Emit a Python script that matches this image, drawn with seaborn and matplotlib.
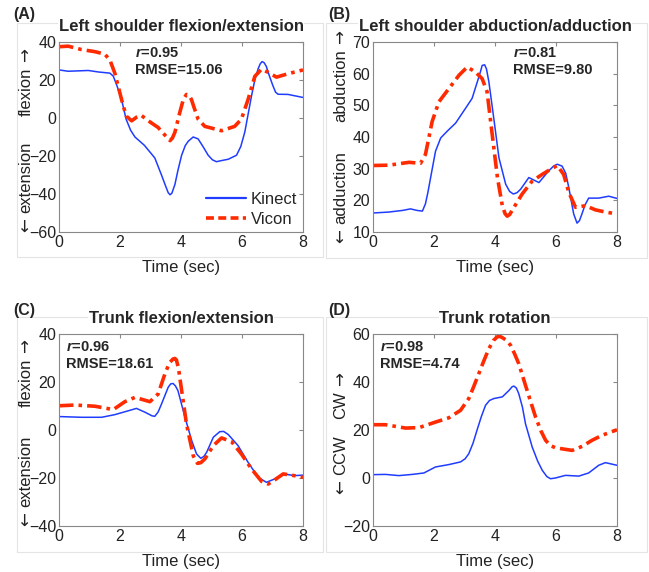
import numpy as np
import pandas as pd
import matplotlib
matplotlib.use("Agg")
import matplotlib.pyplot as plt
from matplotlib.lines import Line2D
import seaborn as sns

# ---- data (time in sec, angle in deg) ----
a_kin_t = [0, 0.3, 0.63, 0.96, 1.3, 1.67, 1.78, 1.9, 2.05, 2.2, 2.35, 2.49, 2.8, 3.14, 3.36, 3.5, 3.58, 3.64,
           3.7, 3.8, 3.9, 4.02, 4.14, 4.24, 4.4, 4.56, 4.72, 4.89, 5.03, 5.16, 5.3, 5.55, 5.82, 5.96, 6.09, 6.2,
           6.31, 6.42, 6.53, 6.6, 6.66, 6.73, 6.8, 6.9, 7.02, 7.1, 7.18, 7.51, 8]
a_kin_y = [25.3, 24.6, 24.8, 25, 24.2, 23.6, 22, 17, 9.8, -0.6, -6.5, -10, -14.4, -21, -30, -36, -39.3, -40.4,
           -39.6, -35, -27.5, -19.6, -14.5, -12.2, -10, -11, -15, -19.6, -22, -23, -22.5, -21.7, -19.6, -15, -7.5, 2,
           11.5, 20, 26, 28.6, 29.7, 29, 27, 22, 16.7, 13.6, 12.5, 12.4, 10.8]
a_vic_t = [0, 0.3, 0.74, 1.18, 1.5, 1.67, 1.83, 2.05, 2.2, 2.38, 2.55, 2.69, 2.93, 3.25, 3.5, 3.64, 3.72, 3.8,
           3.96, 4.08, 4.18, 4.26, 4.34, 4.45, 4.56, 4.78, 5.33, 5.76, 5.98, 6.2, 6.42, 6.64, 6.86, 7.13, 7.51, 8]
a_vic_y = [37.5, 37.8, 36, 34.9, 33.6, 30.5, 23.6, 9.8, 1.1, -1.5, 0.5, 1.5, -1.5, -5, -9.5, -11.9, -10.5, -7.5,
           2.9, 10, 12.4, 12, 9.8, 4.5, -0.6, -4.4, -6.7, -4.4, -0.6, 9.8, 21.9, 25.7, 24, 21.5, 23.3, 25.3]

b_kin_t = [0, 0.52, 0.96, 1.23, 1.45, 1.62, 1.72, 1.8, 1.89, 2.05, 2.22, 2.43, 2.71, 3.03, 3.25, 3.42, 3.52,
           3.58, 3.66, 3.72, 3.8, 3.96, 4.13, 4.35, 4.48, 4.6, 4.72, 4.84, 5.11, 5.44, 5.76, 5.92, 6.04, 6.2, 6.32,
           6.42, 6.58, 6.69, 6.77, 6.85, 6.95, 7.07, 7.4, 7.73, 8]
b_kin_y = [16, 16.3, 16.8, 17.3, 16.8, 16.6, 18.9, 22.5, 27.2, 35.5, 39.7, 41.8, 44.4, 49, 52.2, 57.4, 60.5,
           62.6, 62.8, 61.5, 57.4, 45.9, 33.4, 25.1, 22.8, 22, 22.4, 23.5, 27.2, 25.6, 29.3, 30.8, 31.4, 30.8, 28.5,
           24, 15.7, 12.8, 13.6, 15.7, 18.5, 20.7, 20.7, 21.3, 20.6]
b_vic_t = [0, 0.52, 1.18, 1.56, 1.72, 1.94, 2.16, 2.49, 2.82, 3.09, 3.36, 3.58, 3.74, 3.91, 4.08, 4.24, 4.33,
           4.4, 4.48, 4.56, 4.89, 5.22, 5.55, 5.82, 6.04, 6.25, 6.42, 6.64, 6.97, 7.29, 7.62, 8]
b_vic_y = [31, 31.1, 32, 31.7, 34.5, 44.9, 51.1, 55.3, 59.5, 62.1, 60.5, 58.4, 54.3, 40.7, 27.2, 18.3, 15.8,
           15, 15.5, 16.8, 22, 26.1, 28.2, 29.8, 31, 28.2, 22.5, 17.8, 18.3, 17, 16.3, 15.7]

c_kin_t = [0, 0.74, 1.4, 1.83, 2.27, 2.54, 2.82, 3.05, 3.14, 3.25, 3.36, 3.58, 3.66, 3.74, 3.82, 3.9, 4.13, 4.35,
           4.51, 4.65, 4.75, 4.84, 5.06, 5.27, 5.4, 5.55, 5.87, 6.2, 6.53, 6.8, 7.07, 7.35, 7.73, 8]
c_kin_y = [5.6, 5.3, 5.3, 6.4, 8, 9, 7.4, 5.9, 5.7, 7.5, 10.8, 17.8, 19.2, 19.4, 18.3, 16.4, 5.3, -4.4,
           -10, -11.8, -11, -9.3, -3, -0.7, -0.6, -1.9, -6.5, -13.5, -19.7, -21.8, -20.4, -18.3, -19, -18.8]
c_vic_t = [0, 0.52, 1.18, 1.78, 2.16, 2.49, 2.98, 3.25, 3.47, 3.62, 3.74, 3.8, 3.85, 3.92, 3.99, 4.18, 4.4, 4.54,
           4.65, 4.78, 5.06, 5.33, 5.66, 5.98, 6.31, 6.64, 6.86, 7.07, 7.35, 7.62, 8]
c_vic_y = [10.1, 10.4, 9.9, 8.5, 11.8, 13.6, 11.8, 15, 23.3, 28, 29.6, 29.8, 29.2, 25.5, 19.2, 2.5, -10.7, -13.9,
           -13.6, -12.1, -6.5, -3.3, -4.9, -10, -16.2, -21.4, -22.5, -20.8, -18.3, -18.8, -19.7]

d_kin_t = [0, 0.41, 0.85, 1.29, 1.67, 2.05, 2.49, 2.87, 3.02, 3.14, 3.28, 3.41, 3.55, 3.69, 3.82, 3.96, 4.24,
           4.46, 4.56, 4.62, 4.7, 4.78, 4.9, 5, 5.22, 5.4, 5.55, 5.7, 5.82, 5.98, 6.31, 6.75, 7.07, 7.4, 7.62, 8]
d_kin_y = [1.4, 1.5, 1, 1.5, 2.1, 4.6, 5.6, 6.7, 8, 10.1, 14.5, 19.9, 25.5, 30.3, 32.3, 33.1, 33.8,
           36.5, 38, 38.3, 37.5, 35.1, 29.5, 22.6, 12.9, 7, 3.2, 0.6, -0.3, 0, 1.1, 0.8, 2.1, 5.3, 6.4, 5.3]
d_vic_t = [0, 0.41, 1.07, 1.51, 2.05, 2.49, 2.87, 3.14, 3.3, 3.47, 3.64, 3.8, 3.95, 4.07, 4.16, 4.24, 4.38, 4.51,
           4.64, 4.78, 5, 5.33, 5.5, 5.66, 5.82, 5.98, 6.53, 6.86, 7.18, 7.51, 8]
d_vic_y = [22.2, 22.2, 20.8, 21, 23.3, 25.1, 28.2, 33.1, 38, 43.5, 49, 53.9, 57.3, 58.8, 59, 58.5, 57.3, 55.3,
           51.8, 47.6, 38.6, 25.4, 19.8, 15.7, 13.5, 12.6, 11.5, 13.2, 15.7, 17.8, 20.1]

panel_tags = ["(A)", "(B)", "(C)", "(D)"]
titles = ["Left shoulder flexion/extension", "Left shoulder abduction/adduction",
          "Trunk flexion/extension", "Trunk rotation"]
r_values = ["0.95", "0.81", "0.96", "0.98"]
rmse_values = ["15.06", "9.80", "18.61", "4.74"]
pos_labels = ["flexion", "abduction", "flexion", "CW"]
neg_labels = ["extension", "adduction", "extension", "CCW"]
y_limits = [(-60, 40), (10, 70), (-40, 40), (-20, 60)]
y_steps = [20, 10, 20, 20]

sns.set_style("white")
plt.rcParams["font.family"] = ["Liberation Sans", "DejaVu Sans"]
plt.rcParams["mathtext.fontset"] = "custom"
plt.rcParams["mathtext.it"] = "Liberation Sans:italic:bold"

blue = "#1f3cff"
red = "#ff2a00"
txt = "#222222"
palette = {"Kinect": blue, "Vicon": red}
dashes = {"Kinect": "", "Vicon": (4, 1.4, 1, 1.4)}
sizes = {"Kinect": 1.1, "Vicon": 2.6}


def make_df(kt, ky, vt, vy):
    k = pd.DataFrame({"time": kt, "angle": ky, "system": "Kinect"})
    v = pd.DataFrame({"time": vt, "angle": vy, "system": "Vicon"})
    return pd.concat([k, v], ignore_index=True)


frames = [make_df(a_kin_t, a_kin_y, a_vic_t, a_vic_y),
          make_df(b_kin_t, b_kin_y, b_vic_t, b_vic_y),
          make_df(c_kin_t, c_kin_y, c_vic_t, c_vic_y),
          make_df(d_kin_t, d_kin_y, d_vic_t, d_vic_y)]

fig = plt.figure(figsize=(6.49, 5.72), dpi=100)
W, H = 649.0, 572.0

# axes rectangles in figure fraction
rects = [(0.0909, 0.5944, 0.376, 0.3322), (0.5747, 0.5944, 0.376, 0.3322),
         (0.0909, 0.0804, 0.376, 0.3357), (0.5747, 0.0804, 0.376, 0.3357)]
stat_x = [0.31, 0.574, 0.029, 0.029]
stat_y = [(0.942, 0.853), (0.942, 0.853), (0.932, 0.844), (0.932, 0.844)]
lab_x = [-0.135, -0.131, -0.135, -0.131]
pos_y = [0.74, 0.77, 0.745, 0.63]   # centre of the word, arrow sits above it
neg_y = [0.29, 0.235, 0.285, 0.37]
tag_pos = [(13, 15), (328, 15), (13, 310), (328, 310)]

# faint panel borders (drawn beneath everything)
borders = [((17, 323), (23, 257)), ((326, 647), (23, 258)), ((17, 323), (317, 552)), ((326, 647), (317, 552))]
for (x0, x1), (y0, y1) in borders:
    xs = np.array([x0, x1, x1, x0, x0]) / W
    ys = 1 - np.array([y0, y0, y1, y1, y0]) / H
    fig.add_artist(Line2D(xs, ys, color="#e4e4e4", lw=0.8, zorder=-5))

for i in range(4):
    ax = fig.add_axes(rects[i])
    sns.lineplot(data=frames[i], x="time", y="angle", hue="system", style="system", size="system",
                 palette=palette, dashes=dashes, sizes=sizes, estimator=None, sort=False,
                 legend=False, ax=ax)
    ax.set_xlim(0, 8)
    ax.set_ylim(*y_limits[i])
    ax.set_xticks(range(0, 9, 2))
    ax.set_yticks(np.arange(y_limits[i][0], y_limits[i][1] + 1, y_steps[i]))
    ax.tick_params(direction="in", length=3, width=0.8, colors="#888888", labelcolor=txt,
                   labelsize=11.5, top=True, right=True, pad=2)
    for s in ax.spines.values():
        s.set_color("#888888")
        s.set_linewidth(0.8)
    ax.set_xlabel("")
    ax.set_ylabel("")
    ax.text(0.5, -0.185, "Time (sec)", transform=ax.transAxes, ha="center", va="center",
            fontsize=12, color=txt)

    # rotated y labels with arrows
    w_pos = ax.text(lab_x[i], pos_y[i], pos_labels[i], transform=ax.transAxes, rotation=90,
                    ha="center", va="center", fontsize=12, color=txt)
    ax.annotate("\u2192", xy=(0.5, 1.0), xycoords=w_pos, xytext=(0, 4), textcoords="offset points",
                rotation=90, ha="center", va="bottom", fontsize=12, color=txt, family="DejaVu Sans")
    w_neg = ax.text(lab_x[i], neg_y[i], neg_labels[i], transform=ax.transAxes, rotation=90,
                    ha="center", va="center", fontsize=12, color=txt)
    ax.annotate("\u2190", xy=(0.5, 0.0), xycoords=w_neg, xytext=(0, -4), textcoords="offset points",
                rotation=90, ha="center", va="top", fontsize=12, color=txt, family="DejaVu Sans")

    ax.text(0.5, 1.0 + 15 / (rects[i][3] * H), titles[i], transform=ax.transAxes,
            ha="center", va="center", fontsize=12, fontweight="bold",
            bbox=dict(facecolor="white", edgecolor="none", pad=0.5))
    ax.text(stat_x[i], stat_y[i][0], r"$\it{r}$=" + r_values[i], transform=ax.transAxes,
            ha="left", va="center", fontsize=10.5, fontweight="bold")
    ax.text(stat_x[i], stat_y[i][1], "RMSE=" + rmse_values[i], transform=ax.transAxes,
            ha="left", va="center", fontsize=10.5, fontweight="bold")
    fig.text(tag_pos[i][0] / W, 1 - tag_pos[i][1] / H, panel_tags[i], ha="left", va="center",
             fontsize=11.5, fontweight="bold")

    if i == 0:
        handles = [Line2D([], [], color=blue, lw=1.6),
                   Line2D([], [], color=red, lw=2.6, dashes=(2.2, 1.2))]
        ax.legend(handles, ["Kinect", "Vicon"], loc="lower right", bbox_to_anchor=(1.036, -0.052),
                  frameon=False, fontsize=12, handlelength=2.4, handletextpad=0.25, labelspacing=0.3)

fig.savefig("out.png", dpi=100)
